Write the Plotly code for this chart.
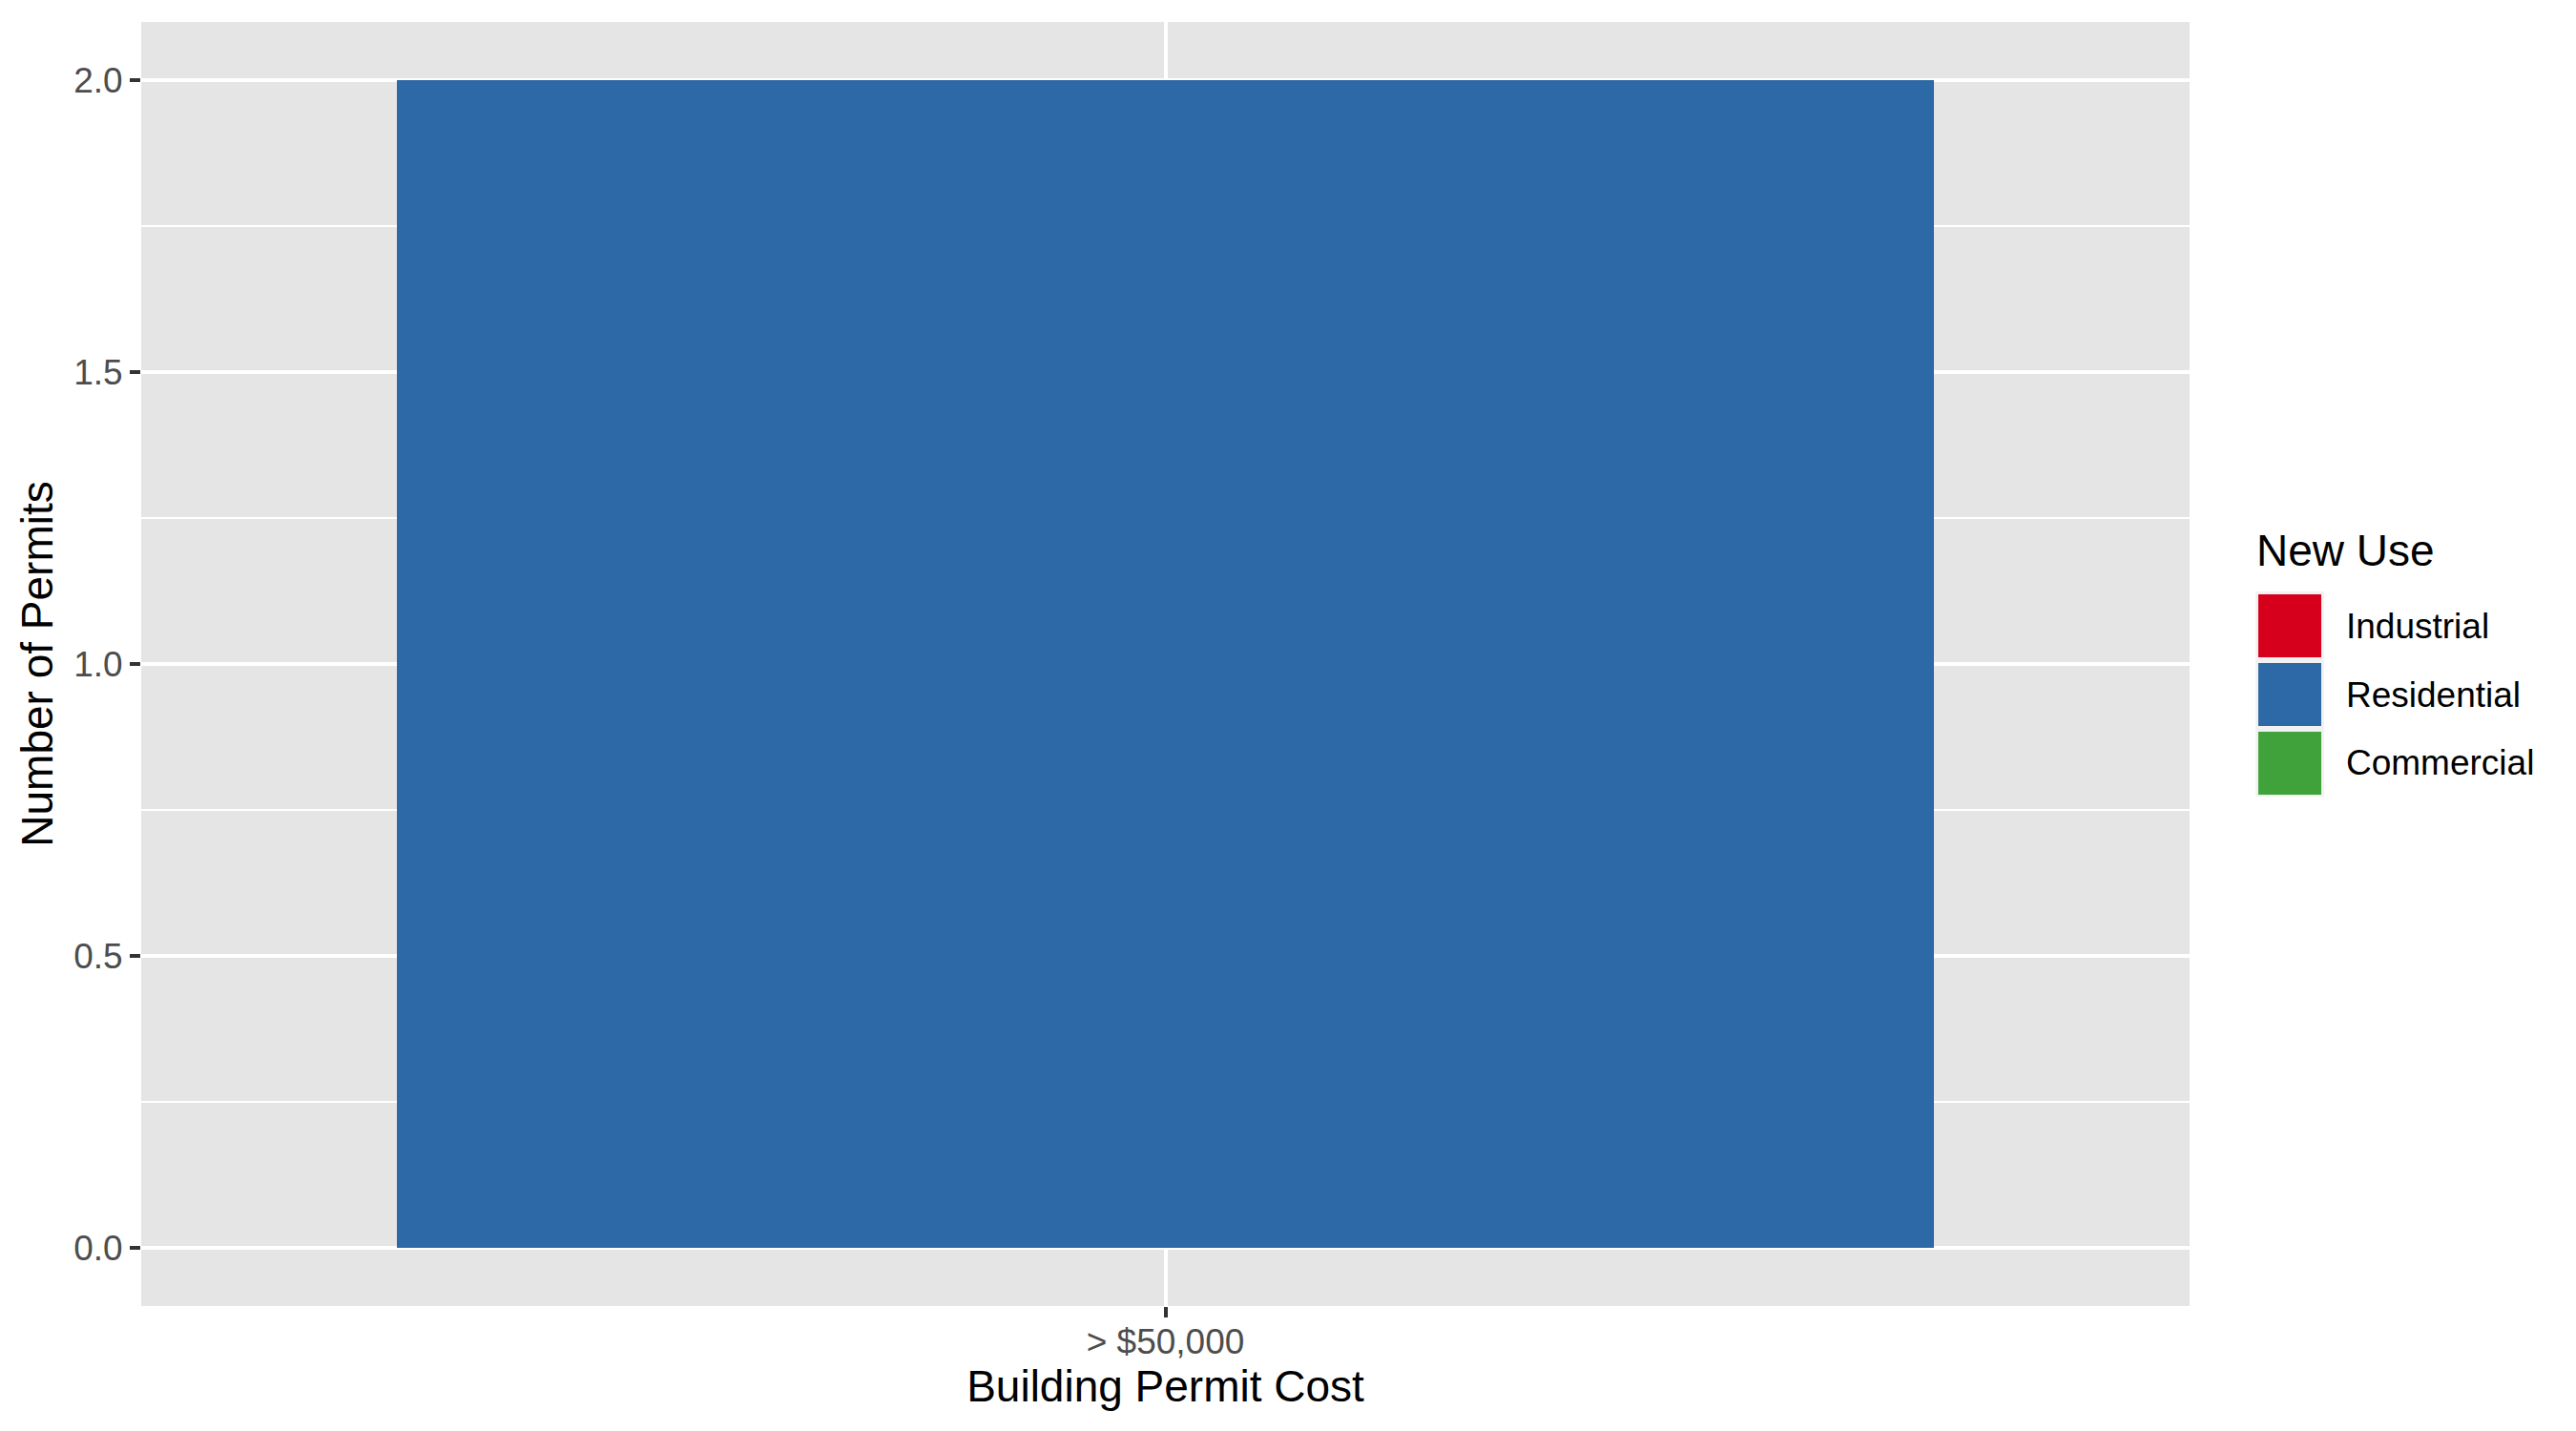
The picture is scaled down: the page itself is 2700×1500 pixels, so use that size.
import plotly.graph_objects as go

categories = ["> $50,000"]
series_names = ["Industrial", "Residential", "Commercial"]
industrial = [0]
residential = [2]
commercial = [0]
colors = ["#D7001C", "#2D69A6", "#40A23A"]

series_values = [industrial, residential, commercial]

FONT = "Liberation Sans, Arial, Helvetica, sans-serif"
W, H = 2700, 1500
L, R, T, B = 148, 405, 23, 131
PW, PH = W - L - R, H - T - B

fig = go.Figure()
for name, vals, col in zip(series_names, series_values, colors):
    fig.add_trace(go.Bar(x=categories, y=vals, name=name, width=0.9,
                         marker=dict(color=col, line=dict(width=0)),
                         showlegend=False))

def px2paper(x, y):
    return (x - L) / PW, (H - B - y) / PH

# legend drawn manually (ggplot-style large keys)
shapes = []
annotations = []
kx0, kx1 = 2364, 2436
ky0 = 620
step = 72
bx0, by0 = px2paper(kx0, ky0)
bx1, by1 = px2paper(kx1, ky0 + step * len(series_names) - 1)
shapes.append(dict(type="rect", xref="paper", yref="paper", x0=bx0, x1=bx1, y0=by0, y1=by1,
                   fillcolor="#F2F2F2", line=dict(width=0), layer="above"))
for i, (name, col) in enumerate(zip(series_names, colors)):
    top = ky0 + 3 + i * step
    x0, y0 = px2paper(kx0 + 3, top)
    x1, y1 = px2paper(kx1 - 3, top + 66)
    shapes.append(dict(type="rect", xref="paper", yref="paper", x0=x0, x1=x1, y0=y0, y1=y1,
                       fillcolor=col, line=dict(width=0), layer="above"))
    lx, ly = px2paper(2457, top + 33)
    annotations.append(dict(xref="paper", yref="paper", x=lx, y=ly, text=name, showarrow=False,
                            xanchor="left", yanchor="middle",
                            font=dict(family=FONT, size=37, color="#000000")))
tx, ty = px2paper(2363, 577)
annotations.append(dict(xref="paper", yref="paper", x=tx, y=ty, text="New Use", showarrow=False,
                        xanchor="left", yanchor="middle",
                        font=dict(family=FONT, size=46, color="#000000")))

fig.update_layout(
    width=W, height=H,
    margin=dict(l=L, r=R, t=T, b=B, pad=0),
    paper_bgcolor="#FFFFFF",
    plot_bgcolor="#E5E5E5",
    barmode="stack",
    bargap=0,
    showlegend=False,
    font=dict(family=FONT),
    shapes=shapes,
    annotations=annotations,
    xaxis=dict(
        type="category",
        range=[-0.6, 0.6],
        showgrid=True, gridcolor="#FFFFFF", gridwidth=4,
        zeroline=False, showline=False,
        ticks="outside", ticklen=11, tickwidth=4, tickcolor="#333333",
        ticklabelstandoff=-6,
        tickfont=dict(family=FONT, size=37, color="#4D4D4D"),
        title=dict(text="Building Permit Cost", font=dict(family=FONT, size=46, color="#000000"),
                   standoff=2),
    ),
    yaxis=dict(
        range=[-0.1, 2.1],
        tick0=0, dtick=0.5, tickformat=".1f",
        showgrid=True, gridcolor="#FFFFFF", gridwidth=4,
        minor=dict(dtick=0.25, tick0=0, showgrid=True, gridcolor="#FFFFFF", gridwidth=2, ticks=""),
        zeroline=False, showline=False,
        ticks="outside", ticklen=11, tickwidth=4, tickcolor="#333333",
        tickfont=dict(family=FONT, size=37, color="#4D4D4D"),
        title=dict(text="Number of Permits", font=dict(family=FONT, size=46, color="#000000"),
                   standoff=7),
    ),
)

fig.write_html("out.html")
